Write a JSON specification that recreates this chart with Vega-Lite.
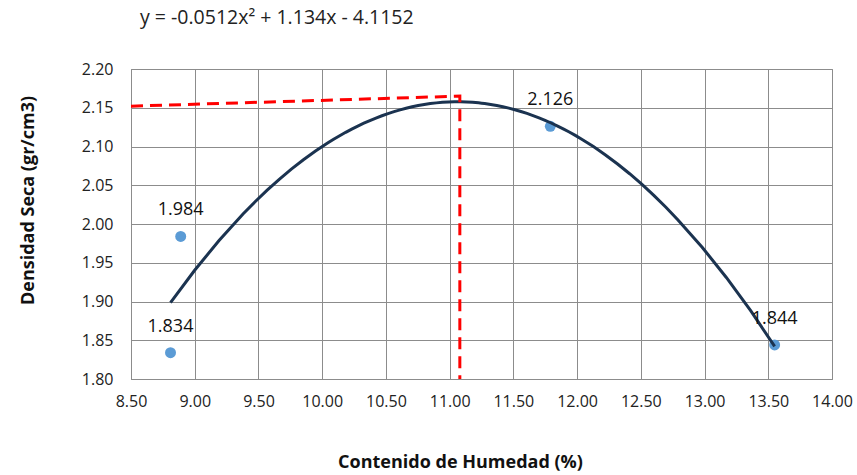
{
  "$schema": "https://vega.github.io/schema/vega-lite/v6.json",
  "autosize": "none",
  "width": 701,
  "height": 310,
  "padding": {"left": 131, "top": 69, "right": 25, "bottom": 96},
  "background": "white",
  "config": {
    "font": "Open Sans",
    "view": {"stroke": "#8c8c8c", "strokeWidth": 1}
  },
  "title": {
    "text": "y = -0.0512x² + 1.134x - 4.1152",
    "anchor": "start",
    "frame": "group",
    "dx": 9,
    "offset": 33,
    "fontSize": 19.5,
    "fontWeight": "normal",
    "font": "Open Sans",
    "color": "#222222"
  },
  "datasets": {
    "pts": [
      {"x": 8.81, "y": 1.834, "label": "1.834"},
      {"x": 8.89, "y": 1.984, "label": "1.984"},
      {"x": 11.79, "y": 2.126, "label": "2.126"},
      {"x": 13.55, "y": 1.844, "label": "1.844"}
    ],
    "red": [
      {"x": 8.5, "y": 2.152, "o": 1},
      {"x": 11.08, "y": 2.165, "o": 2},
      {"x": 11.08, "y": 1.8, "o": 3}
    ]
  },
  "encoding": {
    "x": {
      "field": "x", "type": "quantitative",
      "scale": {"domain": [8.5, 14], "nice": false, "zero": false},
      "axis": {
        "values": [8.5, 9, 9.5, 10, 10.5, 11, 11.5, 12, 12.5, 13, 13.5, 14],
        "format": ".2f",
        "labelOverlap": false, "labelBound": false, "labelFlush": false, "labelSeparation": 0,
        "title": "Contenido de Humedad (%)",
        "titleFont": "Open Sans", "titleFontSize": 18, "titleFontWeight": "bold", "titleColor": "#111111",
        "titlePadding": 44,
        "titleX": 329,
        "labelFont": "Open Sans", "labelFontSize": 16, "labelColor": "#222222",
        "labelPadding": 14, "ticks": false,
        "domainColor": "#8c8c8c",
        "gridColor": "#8c8c8c", "gridOpacity": 1, "gridWidth": 1, "grid": true
      }
    },
    "y": {
      "field": "y", "type": "quantitative",
      "scale": {"domain": [1.8, 2.2], "nice": false, "zero": false},
      "axis": {
        "values": [1.8, 1.85, 1.9, 1.95, 2.0, 2.05, 2.1, 2.15, 2.2],
        "format": ".2f",
        "labelOverlap": false, "labelBound": false, "labelFlush": false, "labelSeparation": 0,
        "title": "Densidad Seca (gr/cm3)",
        "titleFont": "Open Sans", "titleFontSize": 18, "titleFontWeight": "bold", "titleColor": "#111111",
        "titlePadding": 44,
        "titleY": 131,
        "labelFont": "Open Sans", "labelFontSize": 16, "labelColor": "#222222",
        "labelPadding": 18, "ticks": false,
        "domainColor": "#8c8c8c",
        "gridColor": "#8c8c8c", "gridOpacity": 1, "gridWidth": 1, "grid": true
      }
    }
  },
  "layer": [
    {
      "data": {"name": "pts"},
      "mark": {"type": "point", "filled": true, "shape": "circle", "size": 120, "color": "#5B9BD5", "opacity": 1}
    },
    {
      "data": {"name": "pts"},
      "transform": [{"regression": "y", "on": "x", "method": "poly", "order": 2}],
      "mark": {"type": "line", "color": "#1B3350", "strokeWidth": 3}
    },
    {
      "data": {"name": "red"},
      "mark": {"type": "line", "color": "#FF0000", "strokeWidth": 3, "strokeDash": [12, 7]},
      "encoding": {
        "order": {"field": "o"}
      }
    },
    {
      "data": {"name": "pts"},
      "mark": {"type": "text", "dy": -26, "fontSize": 18, "font": "Open Sans", "color": "#111111"},
      "encoding": {
        "text": {"field": "label"}
      }
    }
  ]
}
